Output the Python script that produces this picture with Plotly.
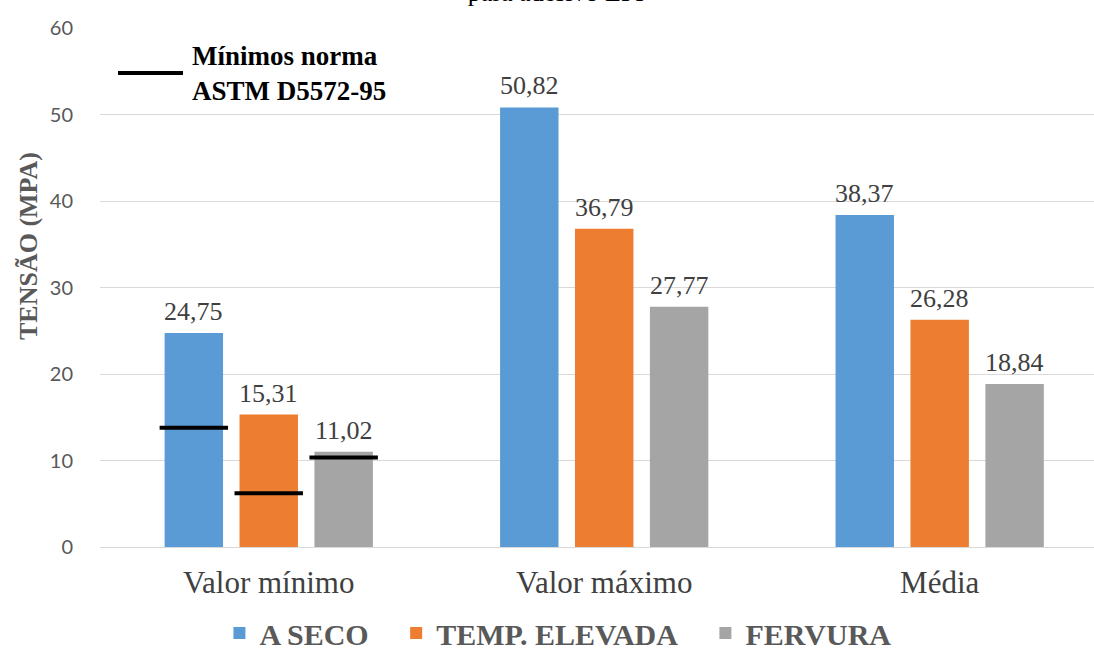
import plotly.graph_objects as go

# Categories and measured tensile stress (MPa)
categorias = ["Valor mínimo", "Valor máximo", "Média"]
series = ["A SECO", "TEMP. ELEVADA", "FERVURA"]
a_seco = [24.75, 50.82, 38.37]
temp_elevada = [15.31, 36.79, 26.28]
fervura = [11.02, 27.77, 18.84]

# ASTM D5572-95 minimum requirements for each condition (MPa)
minimos_astm = [13.79, 6.21, 10.34]

cores = ["#5B9BD5", "#ED7D31", "#A5A5A5"]
valores = [a_seco, temp_elevada, fervura]

SERIF = "Liberation Serif, Times New Roman, serif"
x_pos = list(range(len(categorias)))

# bar geometry (in category units)
BARGAP = 0.33
GROUPGAP = 0.22
slot = (1 - BARGAP) / len(series)
offsets = [(i - (len(series) - 1) / 2) * slot for i in range(len(series))]
half_line = 0.102

fig = go.Figure()

# legend entries get a little trailing room, except the last one
pad = "\u00a0" * 3
for k, (nome, vals, cor) in enumerate(zip(series, valores, cores)):
    rotulo = nome + (pad if k < len(series) - 1 else "")
    fig.add_trace(go.Bar(
        x=x_pos, y=vals, name=rotulo,
        marker=dict(color=cor, line=dict(width=0)),
        hoverinfo="y",
    ))

# value labels above bars
for off, vals in zip(offsets, valores):
    for xi, v in zip(x_pos, vals):
        fig.add_annotation(
            x=xi + off, y=v, xref="x", yref="y",
            text=f"{v:.2f}".replace(".", ","),
            showarrow=False, yanchor="bottom", yshift=5,
            font=dict(family=SERIF, size=26, color="#404040"),
        )

# ASTM minimum markers on the "Valor mínimo" group
for off, m in zip(offsets, minimos_astm):
    fig.add_trace(go.Scatter(
        x=[x_pos[0] + off - half_line, x_pos[0] + off + half_line],
        y=[m, m], mode="lines",
        line=dict(color="black", width=4),
        showlegend=False, hoverinfo="skip",
    ))

# key for the minimum markers
fig.add_shape(type="line", xref="paper", yref="paper",
              x0=(118 - 100) / 994, x1=(183 - 100) / 994,
              y0=(547 - 73) / 519, y1=(547 - 73) / 519,
              line=dict(color="black", width=4))
fig.add_annotation(
    xref="paper", yref="paper",
    x=(190 - 100) / 994, y=(547 - 73) / 519,
    xanchor="left", yanchor="middle", align="left",
    text="<b>Mínimos norma<br>ASTM D5572-95</b>", showarrow=False,
    font=dict(family=SERIF, size=27, color="black"),
)

# title line (upper part lies above the page)
fig.add_annotation(
    xref="paper", yref="paper",
    x=(556 - 100) / 994, y=1 + (28 - 9) / 519,
    xanchor="center", yanchor="bottom",
    text="Tensão de ruptura<br>para adesivo EPI", showarrow=False,
    font=dict(family=SERIF, size=26, color="black"),
)

# y-axis title
fig.add_annotation(
    xref="paper", yref="paper",
    x=-(100 - 28) / 994, y=(547 - 246) / 519,
    xanchor="center", yanchor="middle", textangle=-90,
    text="<b>TENSÃO (MPA)</b>", showarrow=False,
    font=dict(family=SERIF, size=26, color="#595959"),
)

fig.update_layout(
    width=1094, height=652,
    margin=dict(l=100, r=0, t=28, b=105),
    paper_bgcolor="white", plot_bgcolor="white",
    barmode="group", bargap=BARGAP, bargroupgap=GROUPGAP,
    showlegend=True,
    legend=dict(
        orientation="h", xref="container", yref="container",
        x=0.51, xanchor="center", y=0.029, yanchor="middle",
        font=dict(family=SERIF, size=30, color="#595959", weight="bold"),
        itemwidth=30,
    ),
    xaxis=dict(
        range=[-0.503, 2.46], tickvals=x_pos, ticktext=categorias,
        showgrid=False, zeroline=False, showline=False, ticks="",
        tickfont=dict(family=SERIF, size=31, color="#404040"),
        ticklabelstandoff=14,
    ),
    yaxis=dict(
        range=[0, 60], dtick=10, showgrid=True, gridcolor="#D9D9D9",
        gridwidth=1, zeroline=True, zerolinecolor="#D9D9D9", zerolinewidth=1,
        showline=False, ticks="",
        tickfont=dict(family="Lato", size=20, color="#595959"),
        ticklabelstandoff=26,
    ),
)

fig.write_html("out.html")
